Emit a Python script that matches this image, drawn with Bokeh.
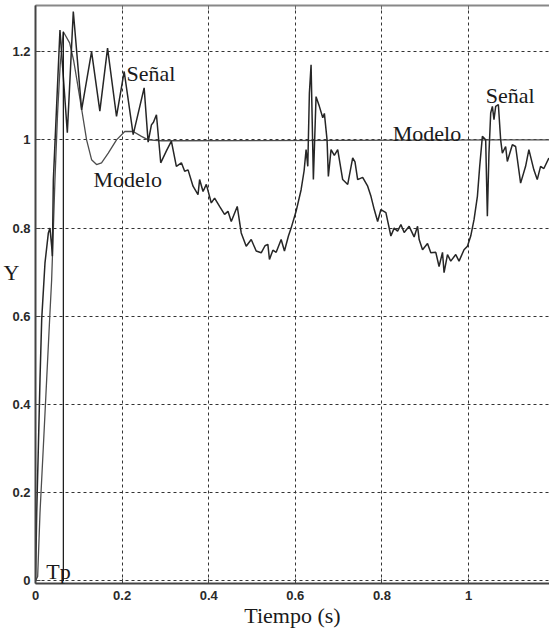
from bokeh.plotting import figure
from bokeh.models import Range1d, FixedTicker, LinearAxis, Label
from bokeh.embed import file_html
from bokeh.resources import INLINE

# Measured response ("Señal"), time in seconds
signal_t = [0.000, 0.0028, 0.0067, 0.0104, 0.0143, 0.0219, 0.0297, 0.0334, 0.0373, 0.0389,
            0.0412, 0.0565, 0.0735, 0.0873, 0.1065, 0.1295, 0.1486, 0.1664, 0.1871, 0.2048,
            0.2256, 0.2509, 0.2601, 0.2677, 0.2724, 0.2793, 0.2892, 0.3023, 0.3138, 0.3253,
            0.3369, 0.3445, 0.3523, 0.3638, 0.3753, 0.3790, 0.3869, 0.3945, 0.4060, 0.4136,
            0.4251, 0.4366, 0.4445, 0.4521, 0.4659, 0.4751, 0.4866, 0.4982, 0.5097, 0.5212,
            0.5300, 0.5366, 0.5403, 0.5482, 0.5558, 0.5673, 0.5749, 0.5841, 0.5903, 0.6018,
            0.6134, 0.6203, 0.6249, 0.6288, 0.6325, 0.6364, 0.6417, 0.6479, 0.6555, 0.6634,
            0.6671, 0.6733, 0.6763, 0.6825, 0.6901, 0.6979, 0.7094, 0.7210, 0.7325, 0.7378,
            0.7440, 0.7555, 0.7671, 0.7747, 0.7823, 0.7901, 0.7977, 0.8092, 0.8207, 0.8283,
            0.8362, 0.8438, 0.8514, 0.8629, 0.8744, 0.8823, 0.8860, 0.8938, 0.9053, 0.9129,
            0.9244, 0.9320, 0.9399, 0.9435, 0.9514, 0.9590, 0.9705, 0.9781, 0.9896, 0.9975,
            1.0051, 1.0127, 1.0205, 1.0258, 1.0320, 1.0396, 1.0435, 1.0472, 1.0512, 1.0551,
            1.0588, 1.0627, 1.0689, 1.0742, 1.0781, 1.0857, 1.0896, 1.1012, 1.1088, 1.1203,
            1.1318, 1.1394, 1.1509, 1.1587, 1.1664, 1.1740, 1.1855]
signal_y = [0.000, 0.155, 0.306, 0.457, 0.593, 0.721, 0.789, 0.800, 0.759, 0.736,
            0.909, 1.249, 1.016, 1.291, 1.068, 1.200, 1.065, 1.208, 1.053, 1.155,
            1.012, 1.118, 0.995, 1.034, 1.040, 1.057, 0.948, 0.975, 0.997, 0.940,
            0.948, 0.929, 0.932, 0.895, 0.876, 0.910, 0.883, 0.899, 0.857, 0.868,
            0.849, 0.831, 0.838, 0.815, 0.849, 0.789, 0.759, 0.774, 0.748, 0.744,
            0.760, 0.763, 0.729, 0.750, 0.745, 0.774, 0.748, 0.782, 0.800, 0.838,
            0.887, 0.930, 0.978, 0.940, 1.106, 1.170, 0.910, 1.098, 1.076, 1.050,
            1.060, 1.000, 0.917, 0.978, 0.965, 0.978, 0.910, 0.899, 0.959, 0.950,
            0.910, 0.915, 0.895, 0.872, 0.842, 0.815, 0.842, 0.835, 0.782, 0.800,
            0.793, 0.808, 0.790, 0.804, 0.780, 0.804, 0.774, 0.751, 0.765, 0.744,
            0.745, 0.713, 0.745, 0.699, 0.740, 0.725, 0.740, 0.725, 0.751, 0.759,
            0.782, 0.819, 0.872, 0.940, 1.008, 1.000, 0.827, 0.970, 1.061, 1.076,
            1.046, 1.076, 1.080, 1.000, 0.970, 0.985, 0.951, 0.989, 0.985, 0.902,
            0.940, 0.978, 0.932, 0.910, 0.940, 0.935, 0.959]

# Second-order model ("Modelo")
model_t = [0.000, 0.005, 0.0104, 0.0182, 0.0258, 0.0334, 0.0373, 0.0412, 0.0449, 0.051,
           0.057, 0.0643, 0.0788, 0.088, 0.0949, 0.1065, 0.118, 0.1295, 0.141, 0.1525,
           0.168, 0.1871, 0.2062, 0.2256, 0.2447, 0.2601, 0.2908, 1.187]
model_y = [0.000, 0.010, 0.155, 0.306, 0.457, 0.608, 0.683, 0.797, 0.909, 1.060,
           1.170, 1.245, 1.220, 1.180, 1.140, 1.070, 1.000, 0.955, 0.944, 0.948,
           0.970, 1.000, 1.019, 1.019, 1.008, 1.000, 0.998, 1.000]

# Peak time of the model
tp_time = 0.0643

x_ticks = [0, 0.2, 0.4, 0.6, 0.8, 1.0, 1.2]
x_tick_labels = ["0", "0.2", "0.4", "0.6", "0.8", "1", "1.2"]
y_ticks = [0, 0.2, 0.4, 0.6, 0.8, 1.0, 1.2]
y_tick_labels = ["0", "0.2", "0.4", "0.6", "0.8", "1", "1.2"]

SERIF = "Liberation Serif"
TEXT_COLOR = "#1a1a1a"

p = figure(width=549, height=630,
           x_range=Range1d(0, 1.187), y_range=Range1d(-0.0057, 1.3046),
           output_backend="svg", toolbar_location=None,
           min_border_left=34, min_border_right=0,
           min_border_top=5, min_border_bottom=46)
p.outline_line_color = None
p.background_fill_color = "white"

# axes: ticks pointing inwards, bold sans labels
for ax, ticks, labels in ((p.xaxis[0], x_ticks, x_tick_labels),
                          (p.yaxis[0], y_ticks, y_tick_labels)):
    ax.ticker = FixedTicker(ticks=ticks)
    ax.major_label_overrides = dict(zip(ticks, labels))
    ax.major_tick_in = 5
    ax.major_tick_out = 0
    ax.minor_tick_line_color = None
    ax.major_tick_line_color = "#444444"
    ax.axis_line_color = "#444444"
    ax.axis_line_width = 2
    ax.major_label_text_font = "Liberation Sans"
    ax.major_label_text_font_style = "bold"
    ax.major_label_text_font_size = "13px"
    ax.major_label_text_color = "#2a2a2a"
p.xaxis.major_label_standoff = 7
p.yaxis.major_label_standoff = 5

# x-axis title
p.xaxis.axis_label = "Tiempo (s)"
p.xaxis.axis_label_text_font = SERIF
p.xaxis.axis_label_text_font_style = "normal"
p.xaxis.axis_label_text_font_size = "22px"
p.xaxis.axis_label_text_color = TEXT_COLOR
p.xaxis.axis_label_standoff = 0

# y-axis title, set horizontally beside the tick labels
y_title_at = 0.699
ytitle = LinearAxis(ticker=FixedTicker(ticks=[y_title_at]),
                    major_label_overrides={y_title_at: "Y"},
                    major_label_text_font=SERIF, major_label_text_font_size="22px",
                    major_label_text_color=TEXT_COLOR, major_label_standoff=-16,
                    axis_line_color=None, major_tick_line_color=None,
                    minor_tick_line_color=None)
p.add_layout(ytitle, "left")

# top border with inward ticks
top = LinearAxis(ticker=FixedTicker(ticks=x_ticks),
                 major_label_text_font_size="0px", major_label_text_color=None,
                 major_label_standoff=0, major_tick_in=4, major_tick_out=0,
                 minor_tick_line_color=None, major_tick_line_color="#666666",
                 axis_line_color="#888888", axis_line_width=2)
p.add_layout(top, "above")

# dotted grid
p.xgrid.ticker = FixedTicker(ticks=x_ticks)
p.ygrid.ticker = FixedTicker(ticks=y_ticks)
for g in (p.xgrid, p.ygrid):
    g.grid_line_color = "#333333"
    g.grid_line_dash = "3 3"
    g.grid_line_width = 1

# curves
p.line(model_t, model_y, line_color="#4d4d4d", line_width=1.3)
p.line(signal_t, signal_y, line_color="#262626", line_width=1.5)
p.segment(x0=[tp_time], y0=[0], x1=[tp_time], y1=[max(model_y)],
          line_color="#111111", line_width=1.2)

# curve annotations
def note(x, y, text):
    p.add_layout(Label(x=x, y=y, text=text, text_font=SERIF, text_font_size="22px",
                       text_color=TEXT_COLOR, text_align="left",
                       text_baseline="alphabetic"))

note(0.210, 1.150, "Señal")
note(0.134, 0.910, "Modelo")
note(0.825, 1.015, "Modelo")
note(1.040, 1.100, "Señal")
note(0.025, 0.022, "Tp")

open("out.html", "w").write(file_html(p, INLINE))
